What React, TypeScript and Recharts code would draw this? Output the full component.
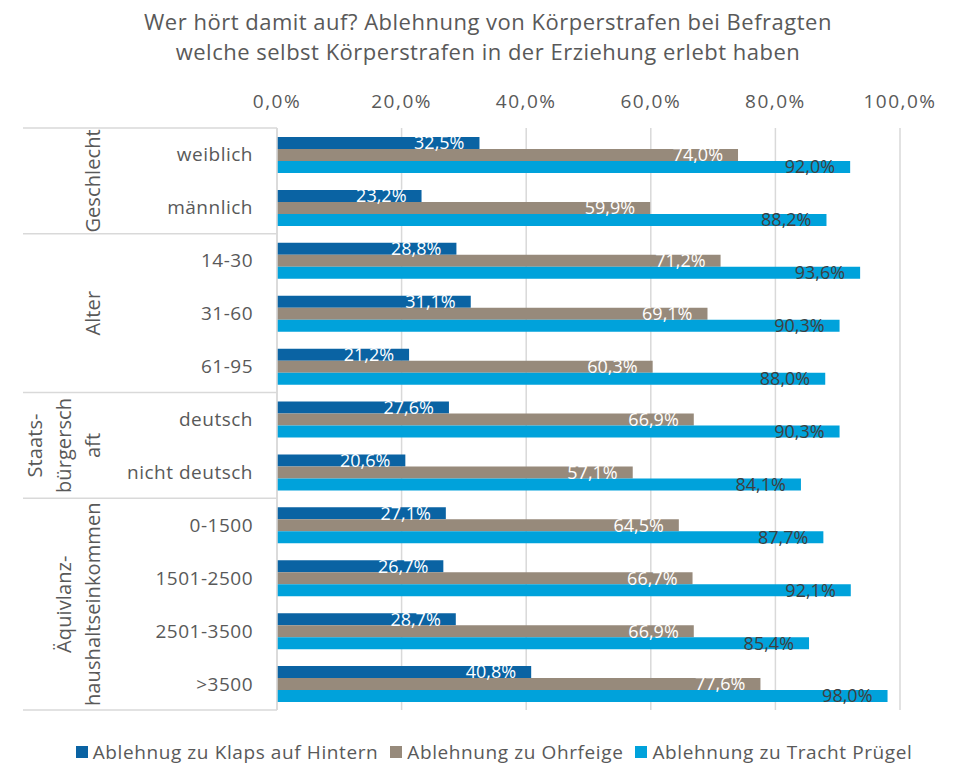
import { BarChart, Bar, XAxis, YAxis, CartesianGrid, LabelList, Legend } from "recharts";

const categories = ["weiblich", "männlich", "14-30", "31-60", "61-95", "deutsch", "nicht deutsch", "0-1500", "1501-2500", "2501-3500", ">3500"];
const klaps = [32.5, 23.2, 28.8, 31.1, 21.2, 27.6, 20.6, 27.1, 26.7, 28.7, 40.8];
const ohrfeige = [74.0, 59.9, 71.2, 69.1, 60.3, 66.9, 57.1, 64.5, 66.7, 66.9, 77.6];
const pruegel = [92.0, 88.2, 93.6, 90.3, 88.0, 90.3, 84.1, 87.7, 92.1, 85.4, 98.0];

const groupLabels = [["Geschlecht"], ["Alter"], ["Staats-", "bürgersch", "aft"], ["Äquivlanz-", "haushaltseinkommen"]];
const groupSizes = [2, 3, 2, 4];

const xTicks = [0, 20, 40, 60, 80, 100];
const seriesNames = ["Ablehnug zu Klaps auf Hintern", "Ablehnung zu Ohrfeige", "Ablehnung zu Tracht Prügel"];

const COLORS = ["#0A63A3", "#978A7B", "#00A2DB"];
const LABEL_COLORS = ["#ffffff", "#ffffff", "#404040"];
const TEXT = "#595959";
const LINE = "#d9d9d9";
const FONT = "'Open Sans', sans-serif";

const data = categories.map((name, i) => ({
  name,
  klaps: klaps[i],
  ohrfeige: ohrfeige[i],
  pruegel: pruegel[i],
}));

const W = 960;
const H = 767;
const PLOT_TOP = 128;
const PLOT_BOTTOM = 710;
const AXIS_X = 277;

const fmt = (v: number) => v.toFixed(1).replace(".", ",") + "%";

// category label plus group separators / rotated group titles on the left
function CategoryTick(props: any) {
  const { x, y, payload, index } = props;
  const half = payload.offset || (PLOT_BOTTOM - PLOT_TOP) / categories.length / 2;
  const parts: any[] = [
    <text key="lbl" x={x} y={y} textAnchor="end" dominantBaseline="central" fill={TEXT} fontSize={19} letterSpacing={0.5} fontFamily={FONT}>
      {payload.value}
    </text>,
  ];
  let start = 0;
  groupSizes.forEach((size, g) => {
    if (index === start) {
      const top = y - half;
      const cy = top + size * half;
      parts.push(<line key={"sep" + g} x1={23} x2={AXIS_X} y1={top} y2={top} stroke={LINE} strokeWidth={1.5} />);
      const lines = groupLabels[g];
      lines.forEach((ln, li) => {
        const lx = 93 - (lines.length - 1 - li) * 29;
        parts.push(
          <text key={"g" + g + li} x={lx} y={cy} textAnchor="middle" dominantBaseline="central" fill={TEXT} fontSize={20} letterSpacing={0.1} fontFamily={FONT} transform={`rotate(-90, ${lx}, ${cy})`}>
            {ln}
          </text>
        );
      });
    }
    start += size;
  });
  if (index === categories.length - 1) {
    parts.push(<line key="bottom" x1={23} x2={AXIS_X} y1={y + half} y2={y + half} stroke={LINE} strokeWidth={1.5} />);
  }
  return <g>{parts}</g>;
}

function LegendContent() {
  return (
    <div style={{ display: "flex", justifyContent: "center", gap: 12, paddingLeft: 28, fontFamily: FONT, fontSize: 19, letterSpacing: 0.6, color: TEXT }}>
      {seriesNames.map((n, i) => (
        <div key={n} style={{ display: "flex", alignItems: "center", gap: 5 }}>
          <span style={{ width: 12, height: 12, background: COLORS[i], display: "inline-block" }} />
          <span>{n}</span>
        </div>
      ))}
    </div>
  );
}

export default function App() {
  const keys = ["klaps", "ohrfeige", "pruegel"];
  return (
    <div style={{ position: "absolute", left: 0, top: 0, width: W, height: H, background: "#fff" }}>
      <div style={{ position: "absolute", top: 6, left: 8, width: W, textAlign: "center", fontFamily: FONT, fontSize: 22, letterSpacing: 0.5, lineHeight: "30px", color: TEXT }}>
        Wer hört damit auf? Ablehnung von Körperstrafen bei Befragten
        <br />
        welche selbst Körperstrafen in der Erziehung erlebt haben
      </div>
      <BarChart
        width={W}
        height={H}
        data={data}
        layout="vertical"
        margin={{ top: PLOT_TOP - 30, left: 27, right: W - 900, bottom: H - PLOT_BOTTOM }}
        barCategoryGap="17%"
        barGap={0}
      >
        <CartesianGrid horizontal={false} stroke={LINE} strokeWidth={1.5} />
        <XAxis
          type="number"
          orientation="top"
          domain={[0, 100]}
          ticks={xTicks}
          height={30}
          axisLine={false}
          tickLine={false}
          tickMargin={14}
          tickFormatter={fmt}
          tick={{ fill: TEXT, fontSize: 19, letterSpacing: 1.5, fontFamily: FONT }}
        />
        <YAxis
          type="category"
          dataKey="name"
          width={250}
          axisLine={{ stroke: LINE, strokeWidth: 1.5 }}
          tickLine={false}
          tickSize={0}
          tickMargin={24}
          interval={0}
          tick={(p: any) => <CategoryTick {...p} />}
        />
        <Legend verticalAlign="middle" align="center" wrapperStyle={{ top: 739, left: 0, width: W }} content={() => <LegendContent />} />
        {keys.map((k, i) => (
          <Bar key={k} dataKey={k} name={seriesNames[i]} fill={COLORS[i]} isAnimationActive={false}>
            <LabelList dataKey={k} position="insideRight" offset={15} formatter={(v: any) => fmt(Number(v))} fill={LABEL_COLORS[i]} fontSize={18} fontFamily={FONT} />
          </Bar>
        ))}
      </BarChart>
    </div>
  );
}
